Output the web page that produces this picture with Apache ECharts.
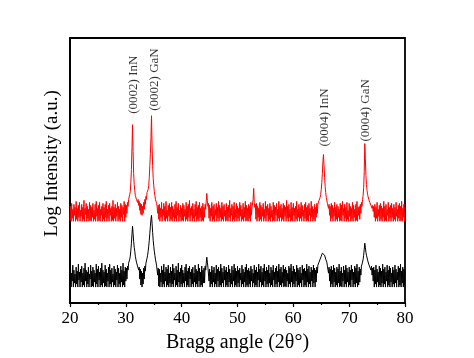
<!DOCTYPE html>
<html>
<head>
<meta charset="utf-8">
<script src="https://cdn.jsdelivr.net/npm/echarts@6/dist/echarts.min.js"></script>
<style>html,body{margin:0;padding:0;background:#fff;}#c{width:474px;height:358px;}</style>
</head>
<body>
<div id="c"></div>
<script>
// Bragg angle grid: 20.0 to 80.0 in 0.1 degree steps (601 points)
const angleStart = 20;
const angleStep = 0.1;

// Upper (red) pattern, log intensity in arbitrary units
const redValues = [
  83,97,82,100,85,94,82,99,88,96,82,102,84,95,82,98,86,101,82,93,
  87,99,82,96,84,103,82,95,89,100,82,97,85,94,82,101,83,98,82,96,
  86,100,82,93,84,99,82,102,87,95,82,98,83,101,82,94,88,97,82,100,
  84,96,82,99,86,102,82,94,85,98,82,100,88,95,82,97,83,103,82,96,
  85,99,82,95,87,101,82,97,84,94,82,100,86,98,82,96,89,102,82,99,
  86,98,90,101,97,104,102,109,112,121,134,156,179,152,130,119,113,108,110,104,
  106,101,104,98,102,93,100,89,99,88,97,90,101,94,104,99,107,104,111,109,
  114,118,126,138,150,166,188,158,138,125,118,112,108,104,106,100,97,90,98,84,
  99,82,95,86,101,82,94,88,100,83,97,82,102,85,93,82,98,87,100,82,
  96,84,101,82,97,86,94,82,99,85,102,82,96,88,100,82,93,86,98,82,
  95,83,100,82,98,87,94,82,101,84,97,82,99,86,103,82,95,88,97,82,
  100,85,94,82,99,87,102,82,96,84,98,82,101,86,95,82,97,83,100,82,
  96,86,99,94,102,110,103,97,100,85,98,82,95,87,101,82,97,84,99,82,
  94,88,100,82,96,85,102,82,98,86,95,82,101,84,97,82,99,87,93,82,
  100,83,96,82,98,86,103,82,95,88,99,82,97,84,101,82,94,86,100,82,
  97,85,95,82,101,87,98,82,94,84,100,82,96,86,102,82,98,83,95,82,
  99,85,97,82,101,88,96,98,104,115,101,96,99,84,100,82,97,86,95,82,
  101,84,98,82,96,87,100,82,94,85,102,82,97,88,99,82,95,84,100,82,
  97,86,93,82,101,83,98,82,96,88,100,82,94,85,102,82,97,86,99,82,
  95,84,100,82,98,87,96,82,103,85,97,82,99,86,94,82,101,83,96,82,
  100,88,95,82,97,84,102,82,94,86,99,82,96,85,101,82,98,87,93,82,
  99,85,101,82,96,83,98,82,100,88,95,82,102,86,97,82,94,84,99,82,
  96,86,100,90,99,97,103,101,106,109,114,121,130,142,149,138,126,117,111,106,
  104,100,102,95,99,88,97,82,100,85,98,82,95,87,101,82,96,84,99,82,
  97,86,94,82,100,83,98,82,102,88,95,82,99,85,96,82,101,84,93,82,
  100,87,97,82,95,84,101,82,98,86,94,82,99,83,102,82,96,88,97,84,
  99,90,101,97,104,108,116,132,160,145,128,119,113,109,107,104,105,101,102,98,
  100,95,98,92,97,86,99,82,96,85,101,82,94,87,98,82,100,84,97,82,
  95,86,102,82,97,83,99,82,94,88,101,82,96,85,98,82,100,86,95,82,
  99,84,96,82,101,87,94,82,98,85,100,82,97,83,102,82,95,86,99,82,
  96
];

// Lower (black) pattern
const blackValues = [
  18,35,16,30,22,38,16,33,20,29,16,36,19,32,16,39,23,31,16,34,
  21,37,16,30,18,35,16,40,22,33,16,31,19,36,16,29,24,38,16,32,
  17,36,16,33,21,30,16,39,19,34,16,37,23,31,16,35,18,40,16,33,
  20,31,16,38,17,34,16,30,22,36,16,39,19,33,16,35,21,29,16,37,
  18,34,16,31,23,38,16,35,19,30,16,37,21,33,16,40,18,32,16,36,
  22,35,24,37,33,40,38,44,47,53,60,69,77,70,62,56,52,47,45,41,
  43,37,39,33,36,24,34,18,32,16,30,19,35,24,37,32,40,39,45,48,
  52,57,63,70,77,84,88,80,71,63,57,52,48,44,42,38,39,28,35,17,
  34,16,30,21,37,16,33,19,39,16,31,22,36,16,34,18,38,16,30,20,
  36,16,32,19,39,16,35,23,30,16,37,18,33,16,40,21,31,16,35,19,
  38,16,33,20,30,16,36,22,39,16,32,18,35,16,37,24,31,16,34,19,
  36,16,30,21,38,16,34,19,32,16,39,22,35,16,31,18,37,16,33,20,
  35,20,37,33,40,46,41,36,38,22,34,16,31,19,37,16,33,21,36,16,
  30,19,38,16,34,22,36,16,32,18,39,16,35,20,31,16,37,23,33,16,
  36,18,31,16,38,21,34,16,30,19,37,16,33,22,39,16,35,18,32,16,
  37,20,33,16,35,23,30,16,38,19,34,16,31,21,36,16,39,18,33,16,
  35,19,32,16,37,22,34,16,30,20,38,16,33,18,36,16,31,23,39,16,
  34,21,37,16,31,18,35,16,39,22,32,16,36,19,33,16,38,20,30,16,
  36,18,33,16,38,23,31,16,35,19,37,16,32,21,39,16,34,18,36,16,
  31,20,38,16,34,17,36,16,33,22,30,16,37,19,35,16,39,21,32,16,
  37,19,34,16,31,22,38,16,35,18,33,16,36,20,30,16,38,23,34,16,
  35,18,32,16,39,21,34,16,37,19,31,16,36,22,33,16,38,20,35,16,
  33,21,36,30,38,36,41,40,44,45,47,49,50,51,51,50,48,46,44,42,
  41,37,39,30,36,22,34,16,37,19,33,16,38,21,35,16,31,18,36,16,
  34,20,39,16,32,17,36,16,30,22,37,16,33,19,38,16,35,21,31,16,
  36,18,33,16,38,23,34,16,31,19,37,16,35,20,39,16,32,18,36,21,
  34,28,37,35,41,44,48,54,60,56,51,48,46,43,42,39,40,36,38,33,
  37,28,35,22,36,16,33,19,38,16,34,21,31,16,37,18,35,16,32,20,
  39,16,34,19,36,16,31,22,38,16,33,18,37,16,35,21,30,16,36,19,
  33,16,38,20,34,16,31,23,37,16,35,18,39,16,32,20,36,16,34,18,
  33
];

// Peak annotations
const peakLabels = ['(0002) InN', '(0002) GaN', '(0004) InN', '(0004) GaN'];
const peakLabelX = [31.4, 35.2, 65.6, 73.0];
const peakLabelY = [190, 193, 157, 162];

const xTicks = [20, 30, 40, 50, 60, 70, 80];

const toPairs = arr => arr.map((v, i) => [+(angleStart + i * angleStep).toFixed(1), v]);
const serif = 'Liberation Serif';

const chart = echarts.init(document.getElementById('c'), null, {renderer: 'canvas'});
chart.setOption({
  animation: false,
  backgroundColor: '#fff',
  grid: {left: 70, right: 69, top: 38, bottom: 54, show: true, borderColor: '#000', borderWidth: 1.8, backgroundColor: 'transparent'},
  xAxis: {
    type: 'value', min: xTicks[0], max: xTicks[xTicks.length - 1], interval: 10,
    name: 'Bragg angle (2θ°)', nameLocation: 'middle', nameGap: 30,
    nameTextStyle: {fontFamily: serif, fontSize: 20, color: '#000'},
    axisLine: {show: true, lineStyle: {color: '#000', width: 1.8}},
    axisTick: {show: true, inside: false, length: 4, lineStyle: {color: '#000', width: 1.2}},
    minorTick: {show: true, splitNumber: 2, length: 2, lineStyle: {color: '#000', width: 1.2}},
    axisLabel: {fontFamily: serif, fontSize: 17, color: '#000', margin: 7},
    splitLine: {show: false}
  },
  yAxis: {
    type: 'value', min: 0, max: 266,
    name: 'Log Intensity (a.u.)', nameLocation: 'middle', nameGap: 8,
    nameTextStyle: {fontFamily: serif, fontSize: 19, color: '#000', padding: [0, 0, 0, 14]},
    axisLine: {show: true, lineStyle: {color: '#000', width: 1.8}},
    axisTick: {show: false}, axisLabel: {show: false}, splitLine: {show: false}
  },
  series: [
    {type: 'line', data: toPairs(blackValues), showSymbol: false, symbol: 'none',
      lineStyle: {color: '#000', width: 1}, z: 2},
    {type: 'line', data: toPairs(redValues), showSymbol: false, symbol: 'none',
      lineStyle: {color: '#ff0000', width: 1}, z: 3},
    {type: 'scatter', symbolSize: 1, itemStyle: {color: 'rgba(0,0,0,0)'},
      data: peakLabels.map((t, i) => ({value: [peakLabelX[i], peakLabelY[i]], name: t})),
      label: {show: true, position: 'inside', rotate: 90, align: 'left', verticalAlign: 'middle',
        formatter: p => p.name, fontFamily: serif, fontSize: 13, color: '#000'}, z: 4}
  ]
});
</script>
</body>
</html>
